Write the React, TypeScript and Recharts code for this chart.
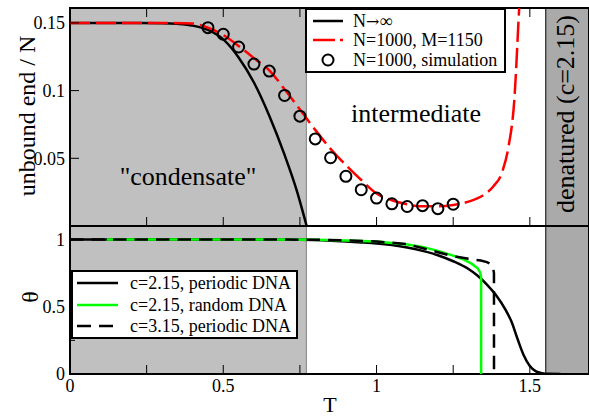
import React from 'react';
import { ComposedChart, Line, XAxis, YAxis, ReferenceArea, Legend } from 'recharts';

const FONT = '"Liberation Serif", "Times New Roman", serif';

// axis ranges / phase boundaries (in T)
const tMax = 1.693;
const condensateEnd = 0.771;
const denaturedStart = 1.552;
const topYMax = 0.161;
const botYMax = 1.1;

// tick values
const xTicks = [0, 0.25, 0.5, 0.75, 1, 1.25, 1.5];
const xLabeled = [0, 0.5, 1, 1.5];
const topYTicks = [0.05, 0.1, 0.15];
const topYLabeled = [0.05, 0.1, 0.15];
const botYTicks = [0, 0.25, 0.5, 0.75, 1];
const botYLabeled = [0, 0.5, 1];

// top panel: unbound end / N
const infT = [0, 0.2, 0.3, 0.35, 0.4, 0.45, 0.5, 0.55, 0.6, 0.65, 0.7, 0.74, 0.772];
const infV = [0.15, 0.15, 0.1498, 0.1493, 0.148, 0.1448, 0.1378, 0.1245, 0.106, 0.0815, 0.0525, 0.026, 0];

const finT = [0, 0.3, 0.4, 0.45, 0.5, 0.55, 0.6, 0.65, 0.7, 0.75, 0.8, 0.85, 0.9, 0.95, 1.0, 1.05, 1.1, 1.15, 1.2, 1.25, 1.3, 1.35, 1.38, 1.41, 1.43, 1.45, 1.465, 1.48];
const finV = [0.15, 0.15, 0.1495, 0.1465, 0.141, 0.133, 0.124, 0.115, 0.101, 0.086, 0.071, 0.057, 0.045, 0.034, 0.024, 0.019, 0.016, 0.0145, 0.0145, 0.0155, 0.018, 0.023, 0.029, 0.04, 0.058, 0.095, 0.16, 0.22];

const simT = [0.45, 0.5, 0.55, 0.6, 0.65, 0.7, 0.75, 0.8, 0.85, 0.9, 0.95, 1.0, 1.05, 1.1, 1.15, 1.2, 1.25];
const simV = [0.1465, 0.1416, 0.1322, 0.1196, 0.1144, 0.0964, 0.0811, 0.0643, 0.0504, 0.0367, 0.0268, 0.0206, 0.0164, 0.0144, 0.015, 0.0128, 0.0161];

// bottom panel: theta
const perT = [0, 0.4, 0.6, 0.75, 0.85, 0.95, 1.0, 1.05, 1.1, 1.15, 1.2, 1.25, 1.3, 1.33, 1.36, 1.39, 1.42, 1.44, 1.46, 1.48, 1.5, 1.52, 1.54, 1.56, 1.6];
const perV = [1, 1, 0.999, 0.997, 0.99, 0.978, 0.97, 0.958, 0.94, 0.915, 0.883, 0.838, 0.78, 0.73, 0.665, 0.585, 0.48, 0.39, 0.26, 0.14, 0.06, 0.02, 0.006, 0.001, 0];

const rndT = [0.12, 0.6, 0.8, 0.9, 1.0, 1.1, 1.15, 1.2, 1.25, 1.28, 1.31, 1.33, 1.338, 1.341, 1.3411];
const rndV = [1, 1, 0.998, 0.993, 0.985, 0.963, 0.945, 0.915, 0.88, 0.855, 0.82, 0.785, 0.755, 0.72, 0];

const c315T = [0, 0.6, 0.8, 0.9, 1.0, 1.1, 1.2, 1.25, 1.3, 1.34, 1.36, 1.372, 1.38, 1.383, 1.3831];
const c315V = [1, 1, 0.998, 0.993, 0.985, 0.965, 0.905, 0.875, 0.857, 0.843, 0.832, 0.818, 0.79, 0.75, 0];

const rows = (xs: number[], ys: number[]) => xs.map((T, i) => ({ T, v: ys[i] }));

const topLegend = ['N\u2192\u221E', 'N=1000, M=1150', 'N=1000, simulation'];
const botLegend = ['c=2.15, periodic DNA', 'c=2.15, random DNA', 'c=3.15, periodic DNA'];

const TM = 5;

const makeXTick = (side: 'bottom' | 'top', withLabels: boolean, margin: number) => (props: any) => {
  const { x, y, payload } = props;
  const v = payload.value;
  if (side === 'bottom') {
    const ay = y - margin;
    return (
      <g>
        <line x1={x} x2={x} y1={ay} y2={ay - 9} stroke="#000" strokeWidth={1} />
        {withLabels && xLabeled.includes(v) && (
          <text x={x} y={ay + 18} textAnchor="middle" fontSize={18} fontFamily={FONT} fill="#000">{String(v)}</text>
        )}
      </g>
    );
  }
  const ay = y + margin;
  return <line x1={x} x2={x} y1={ay} y2={ay + 9} stroke="#000" strokeWidth={1} />;
};

const makeYTick = (labeled: number[]) => (props: any) => {
  const { x, y, payload } = props;
  const v = payload.value;
  const ax = x + TM;
  const major = labeled.includes(v);
  return (
    <g>
      <line x1={ax} x2={ax + (major ? 9 : 5)} y1={y} y2={y} stroke="#000" strokeWidth={1} />
      {major && (
        <text x={x} y={y} dy="0.35em" textAnchor="end" fontSize={18} fontFamily={FONT} fill="#000">{String(v)}</text>
      )}
    </g>
  );
};

const TopLegendBox = () => {
  const ys = [13, 32, 52];
  return (
    <svg width={201} height={65} style={{ display: 'block' }}>
      <rect x={1} y={1} width={199} height={63} fill="#fff" stroke="#000" strokeWidth={2} />
      <line x1={8} x2={38} y1={ys[0]} y2={ys[0]} stroke="#000" strokeWidth={2.5} />
      <line x1={8} x2={38} y1={ys[1]} y2={ys[1]} stroke="#ff0000" strokeWidth={2.5} strokeDasharray="22 5" />
      <circle cx={23} cy={ys[2]} r={5.5} fill="none" stroke="#000" strokeWidth={2} />
      <text x={48} y={ys[0] + 6} fontSize={18} fontFamily={FONT} fill="#000">
        N<tspan fontFamily='"DejaVu Serif", serif' fontSize={16}>{'\u2192'}</tspan>{'\u221E'}
      </text>
      {topLegend.slice(1).map((t, i) => (
        <text key={t} x={48} y={ys[i + 1] + 6} fontSize={18} fontFamily={FONT} fill="#000">{t}</text>
      ))}
    </svg>
  );
};

const BotLegendBox = () => {
  const ys = [13, 35, 56];
  return (
    <svg width={227} height={69} style={{ display: 'block' }}>
      <rect x={1} y={1} width={225} height={67} fill="#fff" stroke="#000" strokeWidth={2} />
      <line x1={6} x2={47} y1={ys[0]} y2={ys[0]} stroke="#000" strokeWidth={2.5} />
      <line x1={6} x2={47} y1={ys[1]} y2={ys[1]} stroke="#00ff00" strokeWidth={2.5} />
      <line x1={6} x2={47} y1={ys[2]} y2={ys[2]} stroke="#000" strokeWidth={2.5} strokeDasharray="14 8" />
      {botLegend.map((t, i) => (
        <text key={t} x={59} y={ys[i] + 6} fontSize={18} fontFamily={FONT} fill="#000">{t}</text>
      ))}
    </svg>
  );
};

export default function App() {
  return (
    <div style={{ position: 'absolute', left: 0, top: 0, width: 589, height: 418, background: '#fff', overflow: 'hidden', fontFamily: FONT }}>
      <div style={{ position: 'absolute', left: 0, top: 0 }}>
        <ComposedChart width={589} height={256} margin={{ top: 0, right: 0, bottom: 0, left: 8 }}>
          <XAxis xAxisId="b" dataKey="T" type="number" domain={[0, tMax]} ticks={xTicks} interval={0} height={30}
            tickSize={0} tickMargin={TM} axisLine={false} tick={makeXTick('bottom', false, TM)} allowDataOverflow />
          <XAxis xAxisId="t" orientation="top" dataKey="T" type="number" domain={[0, tMax]} ticks={xTicks} interval={0} height={8}
            tickSize={0} tickMargin={0} axisLine={false} tick={makeXTick('top', false, 0)} allowDataOverflow />
          <YAxis yAxisId="l" type="number" domain={[0, topYMax]} ticks={topYTicks} interval={0} width={62}
            tickSize={0} tickMargin={TM} axisLine={false} tick={makeYTick(topYLabeled)} allowDataOverflow />
          <ReferenceArea xAxisId="b" yAxisId="l" x1={0} x2={condensateEnd} fill="#c0c0c0" fillOpacity={1} stroke="#808080" strokeWidth={1} />
          <ReferenceArea xAxisId="b" yAxisId="l" x1={denaturedStart} x2={tMax} fill="#aaaaaa" fillOpacity={1} stroke="#000" strokeWidth={1} />
          <Line xAxisId="b" yAxisId="l" data={rows(infT, infV)} dataKey="v" type="monotone" stroke="#000" strokeWidth={2.5} dot={false} isAnimationActive={false} name={topLegend[0]} />
          <Line xAxisId="b" yAxisId="l" data={rows(finT, finV)} dataKey="v" type="monotone" stroke="#ff0000" strokeWidth={2.5} strokeDasharray="20 6" dot={false} isAnimationActive={false} name={topLegend[1]} />
          <Line xAxisId="b" yAxisId="l" data={rows(simT, simV)} dataKey="v" stroke="none" strokeWidth={0} dot={{ r: 5.5, stroke: '#000', strokeWidth: 2, fill: 'none' }} isAnimationActive={false} name={topLegend[2]} />
          <ReferenceArea xAxisId="b" yAxisId="l" x1={0} x2={tMax} fill="none" stroke="#000" strokeWidth={2} />
          <Legend layout="vertical" align="center" verticalAlign="middle" content={TopLegendBox}
            wrapperStyle={{ left: 305, top: 8, width: 201, height: 65 }} />
        </ComposedChart>
      </div>
      <div style={{ position: 'absolute', left: 0, top: 226 }}>
        <ComposedChart width={589} height={192} margin={{ top: 0, right: 0, bottom: 0, left: 8 }}>
          <XAxis xAxisId="b" dataKey="T" type="number" domain={[0, tMax]} ticks={xTicks} interval={0} height={44}
            tickSize={0} tickMargin={TM} axisLine={false} tick={makeXTick('bottom', true, TM)} allowDataOverflow />
          <YAxis yAxisId="l" type="number" domain={[0, botYMax]} ticks={botYTicks} interval={0} width={62}
            tickSize={0} tickMargin={TM} axisLine={false} tick={makeYTick(botYLabeled)} allowDataOverflow />
          <ReferenceArea xAxisId="b" yAxisId="l" x1={0} x2={condensateEnd} fill="#c0c0c0" fillOpacity={1} stroke="#808080" strokeWidth={1} />
          <ReferenceArea xAxisId="b" yAxisId="l" x1={denaturedStart} x2={tMax} fill="#aaaaaa" fillOpacity={1} stroke="#000" strokeWidth={1} />
          <Line xAxisId="b" yAxisId="l" data={rows(perT, perV)} dataKey="v" type="monotone" stroke="#000" strokeWidth={2.5} dot={false} isAnimationActive={false} name={botLegend[0]} />
          <Line xAxisId="b" yAxisId="l" data={rows(rndT, rndV)} dataKey="v" type="linear" stroke="#00ff00" strokeWidth={2.5} dot={false} isAnimationActive={false} name={botLegend[1]} />
          <Line xAxisId="b" yAxisId="l" data={rows(c315T, c315V)} dataKey="v" type="linear" stroke="#000" strokeWidth={2.5} strokeDasharray="13.5 8" dot={false} isAnimationActive={false} name={botLegend[2]} />
          <ReferenceArea xAxisId="b" yAxisId="l" x1={0} x2={tMax} fill="none" stroke="#000" strokeWidth={2} />
          <Legend layout="vertical" align="center" verticalAlign="middle" content={BotLegendBox}
            wrapperStyle={{ left: 71, top: 44, width: 227, height: 69 }} />
        </ComposedChart>
      </div>
      <svg width={589} height={418} style={{ position: 'absolute', left: 0, top: 0, pointerEvents: 'none' }} fontFamily={FONT}>
        <text x={188} y={185} textAnchor="middle" fontSize={26} fill="#000">"condensate"</text>
        <text x={416} y={122} textAnchor="middle" fontSize={26} fill="#000">intermediate</text>
        <text transform="translate(574,114) rotate(-90)" textAnchor="middle" fontSize={26} fill="#000">denatured (c=2.15)</text>
        <text transform="translate(35,116) rotate(-90)" textAnchor="middle" fontSize={24} fill="#000">unbound end / N</text>
        <text transform="translate(38,297) rotate(-90)" textAnchor="middle" fontSize={24} fill="#000">θ</text>
        <text x={330} y={412} textAnchor="middle" fontSize={22} fill="#000">T</text>
      </svg>
    </div>
  );
}
